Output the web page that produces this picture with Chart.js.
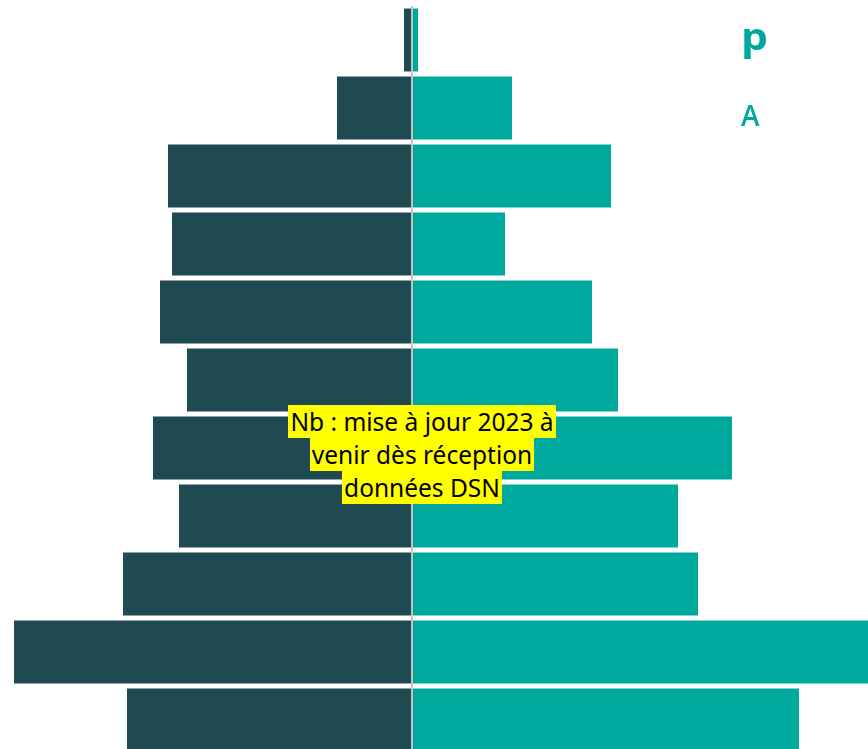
<!DOCTYPE html>
<html lang="fr">
<head>
<meta charset="utf-8">
<script src="https://cdn.jsdelivr.net/npm/chart.js@4"></script>
<style>
  html, body { margin: 0; padding: 0; background: #fff; overflow: hidden; }
  #wrap { position: absolute; left: 0; top: 0; width: 900px; height: 760px; }
  .legend { position: absolute; left: 741px; color: #00a99d; font-family: "Open Sans", sans-serif; font-weight: 700; }
  #note {
    position: absolute; left: 222px; top: 405px; width: 400px;
    text-align: center; font-family: "Noto Sans", sans-serif; font-size: 24.5px; line-height: 33px; color: #000;
  }
  #note span { display: inline-block; background: #ffff00; padding: 0 2px; height: 33px; vertical-align: top; }
</style>
</head>
<body>
<div id="wrap"><canvas id="pyramid" width="900" height="760"></canvas></div>
<div class="legend" style="top:10px;font-size:37px;transform:scaleX(1.15);transform-origin:left;">p</div>
<div class="legend" style="top:96px;font-size:28px;font-weight:600;">A</div>
<div id="note"><span>Nb : mise à jour 2023 à</span><br><span>venir dès réception</span><br><span>données DSN</span></div>

<script>
'use strict';

// Age groups, top row first
let ageGroups = ['65 ans et +', '60-64', '55-59', '50-54', '45-49', '40-44', '35-39', '30-34', '25-29', '20-24', '< 20'];

// Left side (dark) and right side (teal)
let hommes = [8, 75, 244, 240, 252, 225, 259, 233, 289, 398, 285];
let femmes = [6, 100, 199, 93, 180, 206, 320, 266, 286, 470, 387];

// Axis range so that 0 sits where the centre line is
let xMin = -412;
let xMax = 488;

// Centre line drawn on top of the bars
const centreLine = {
  id: 'centreLine',
  afterDatasetsDraw(chart) {
    let ctx = chart.ctx;
    let x = chart.scales.x.getPixelForValue(0);
    ctx.save();
    ctx.strokeStyle = '#c4c4c4';
    ctx.lineWidth = 2;
    ctx.beginPath();
    ctx.moveTo(x, chart.chartArea.top);
    ctx.lineTo(x, chart.chartArea.bottom);
    ctx.stroke();
    ctx.restore();
  }
};

const myChart = new Chart(document.getElementById('pyramid'), {
  type: 'bar',
  data: {
    labels: ageGroups,
    datasets: [
      {
        label: 'Hommes',
        data: hommes.map(v => -v),
        backgroundColor: '#1f4a52',
        categoryPercentage: 1,
        barPercentage: 0.926
      },
      {
        label: 'Femmes',
        data: femmes,
        backgroundColor: '#00a99d',
        categoryPercentage: 1,
        barPercentage: 0.926
      }
    ]
  },
  options: {
    indexAxis: 'y',
    responsive: false,
    animation: false,
    layout: { padding: { top: 6, bottom: 6, left: 0, right: 0 } },
    plugins: {
      legend: { display: false },
      tooltip: { enabled: false }
    },
    scales: {
      x: { display: false, stacked: true, min: xMin, max: xMax },
      y: { display: false, stacked: true }
    }
  },
  plugins: [centreLine]
});
</script>
</body>
</html>
